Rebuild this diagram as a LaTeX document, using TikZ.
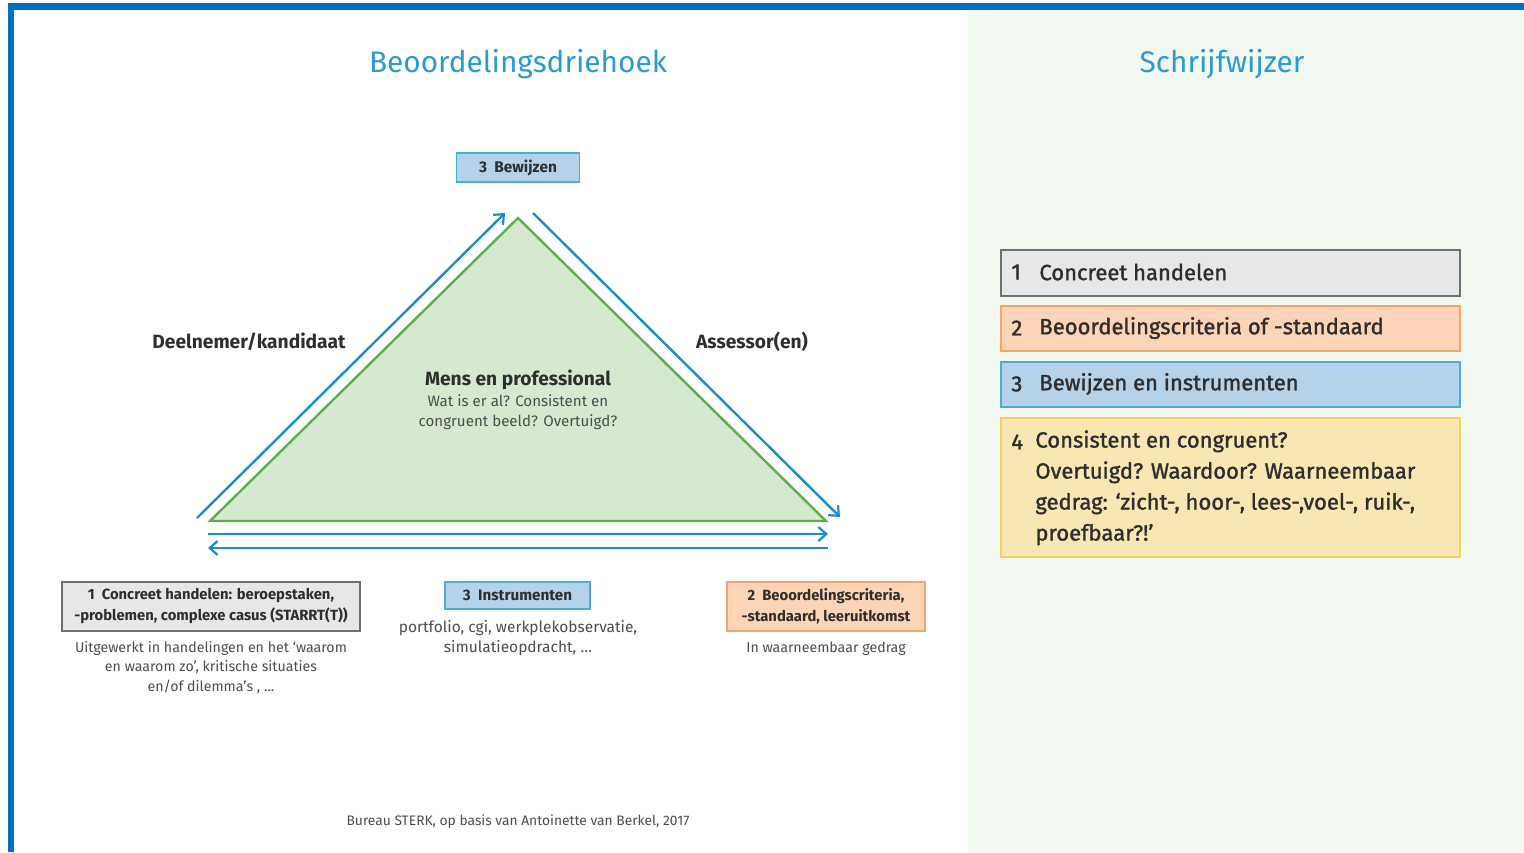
\documentclass[tikz,border=0pt]{standalone}
\usepackage{fontspec}
\setmainfont{Fira Sans}
\newfontfamily\medfont[FakeBold=1.4]{Fira Sans}
\usetikzlibrary{arrows.meta}
\definecolor{titleblue}{HTML}{2A9AD3}
\definecolor{framecol}{HTML}{0070C0}
\definecolor{panelbg}{HTML}{F1F8F0}
\definecolor{arrblue}{HTML}{1D8DC9}
\definecolor{trifill}{HTML}{D6E8CF}
\definecolor{triline}{HTML}{5AB04A}
\definecolor{grayfill}{HTML}{E6E7E8}
\definecolor{grayline}{HTML}{707070}
\definecolor{orfill}{HTML}{FDD5B6}
\definecolor{orline}{HTML}{F6A46C}
\definecolor{blfill}{HTML}{B5D2E8}
\definecolor{blline}{HTML}{4DAAD9}
\definecolor{yefill}{HTML}{F8E6B3}
\definecolor{yeline}{HTML}{F2D163}
\definecolor{txt}{HTML}{2E2E2E}
\newcommand\myfs[2]{\fontsize{#1}{#2}\selectfont}
\tikzset{
  title/.style={text=titleblue, font=\myfs{14.9}{17}, inner sep=0pt},
  arr/.style={draw=arrblue, line width=1.2pt, -{Straight Barb[length=4pt,width=7pt,line width=1.1pt]}},
  tri/.style={draw=triline, fill=trifill, line width=1.2pt, line join=miter},
  smallbox/.style={rectangle, line width=0.7pt, inner sep=0pt, align=center, text=txt, font=\bfseries\myfs{7.4}{10.5}},
  lab/.style={text=txt, font=\bfseries\myfs{9.6}{11}, inner sep=0pt},
  note/.style={text=txt!85!white, font=\myfs{7.1}{9.75}, align=center, inner sep=0pt},
  rbox/.style={rectangle, line width=1pt, inner sep=0pt, minimum width=229.5pt, anchor=north west},
  rtext/.style={text=txt, font=\medfont\myfs{11}{15.5}, inner sep=0pt, anchor=west, align=left},
}
\begin{document}
\begin{tikzpicture}[x=0.5pt,y=-0.5pt]
\useasboundingbox (0,0) rectangle (1524,852);
% right panel background
\fill[panelbg] (968,9) rectangle (1524,852);
% frame
\fill[framecol] (8,3) rectangle (1524,9.5);
\fill[framecol] (8,3) rectangle (14,852);
% titles
\node[title] (t1) at (518,64.5) {Beoordelingsdriehoek};
\node[title] (t2) at (1222,64.5) {Schrijfwijzer};
% triangle
\coordinate (tA) at (518,218);
\coordinate (tL) at (210,521);
\coordinate (tR) at (826,521);
\draw[tri] (tA) -- (tL) -- (tR) -- cycle;
% arrows
\coordinate (aL1) at (197,518);
\coordinate (aL2) at (505,213);
\coordinate (aR1) at (533,213);
\coordinate (aR2) at (840,517);
\coordinate (b1s) at (208,534);
\coordinate (b1e) at (828,534);
\coordinate (b2s) at (828,548);
\coordinate (b2e) at (208,548);
\draw[arr] (aL1) -- (aL2);
\draw[arr] (aR1) -- (aR2);
\draw[arr] (b1s) -- (b1e);
\draw[arr] (b2s) -- (b2e);
% top box
\node[smallbox, fill=blfill, draw=blline, minimum width=61.5pt, minimum height=14.5pt, font=\bfseries\myfs{7.7}{10}] (bew) at (518,167.5) {3\ \ Bewijzen};
% side labels
\node[lab] (deel) at (249,342) {Deelnemer/kandidaat};
\node[lab] (ass) at (752,342) {Assessor(en)};
% centre text
\node[text=txt, font=\bfseries\myfs{9.6}{11}, inner sep=0pt] (mens) at (518,379.5) {Mens en professional};
\node[note, font=\myfs{7.55}{9.75}] (wat) at (518,412) {Wat is er al? Consistent en\\congruent beeld? Overtuigd?};
% bottom boxes
\node[smallbox, fill=grayfill, draw=grayline, minimum width=149pt, minimum height=24.5pt] (b1) at (211,606.5) {1\ \ Concreet handelen: beroepstaken,\\-problemen, complexe casus (STARRT(T))};
\node[note] (n1) at (211,667.5) {Uitgewerkt in handelingen en het ‘waarom\\en waarom zo’, kritische situaties\\en/of dilemma’s , ...};
\node[smallbox, fill=blfill, draw=blline, minimum width=72.5pt, minimum height=13.5pt, font=\bfseries\myfs{7.6}{10}] (b3) at (517.5,595.5) {3\ \ Instrumenten};
\node[note, font=\myfs{7.75}{10}] (n3) at (518,638) {portfolio, cgi, werkplekobservatie,\\simulatieopdracht, \dots};
\node[smallbox, fill=orfill, draw=orline, minimum width=99pt, minimum height=24.5pt] (b2) at (826,606.5) {2\ \ Beoordelingscriteria,\\-standaard, leeruitkomst};
\node[note] (n2) at (826,648.5) {In waarneembaar gedrag};
% footer
\node[note, font=\myfs{6.9}{8}] (foot) at (518,822) {Bureau STERK, op basis van Antoinette van Berkel, 2017};
% right panel boxes
\node[rbox, fill=grayfill, draw=grayline, minimum height=23pt] (r1) at (1000,249) {};
\node[rbox, fill=orfill, draw=orline, minimum height=22.5pt] (r2) at (1000,305) {};
\node[rbox, fill=blfill, draw=blline, minimum height=22.5pt] (r3) at (1000,361) {};
\node[rbox, fill=yefill, draw=yeline, minimum height=69.5pt] (r4) at (1000,417) {};
\node[rtext] (r1n) at (1011,272) {1};
\node[rtext] (r1t) at (1039,272) {Concreet handelen};
\node[rtext] (r2n) at (1011,328) {2};
\node[rtext] (r2t) at (1039,328) {Beoordelingscriteria of -standaard};
\node[rtext] (r3n) at (1011,384) {3};
\node[rtext] (r3t) at (1039,384) {Bewijzen en instrumenten};
\node[rtext] (r4n) at (1011,442) {4};
\node[rtext, anchor=north west] (r4t) at (1035,430) {Consistent en congruent?\\Overtuigd? Waardoor? Waarneembaar\\gedrag: ‘zicht-, hoor-, lees-,voel-, ruik-,\\proefbaar?!’};
\end{tikzpicture}
\end{document}
